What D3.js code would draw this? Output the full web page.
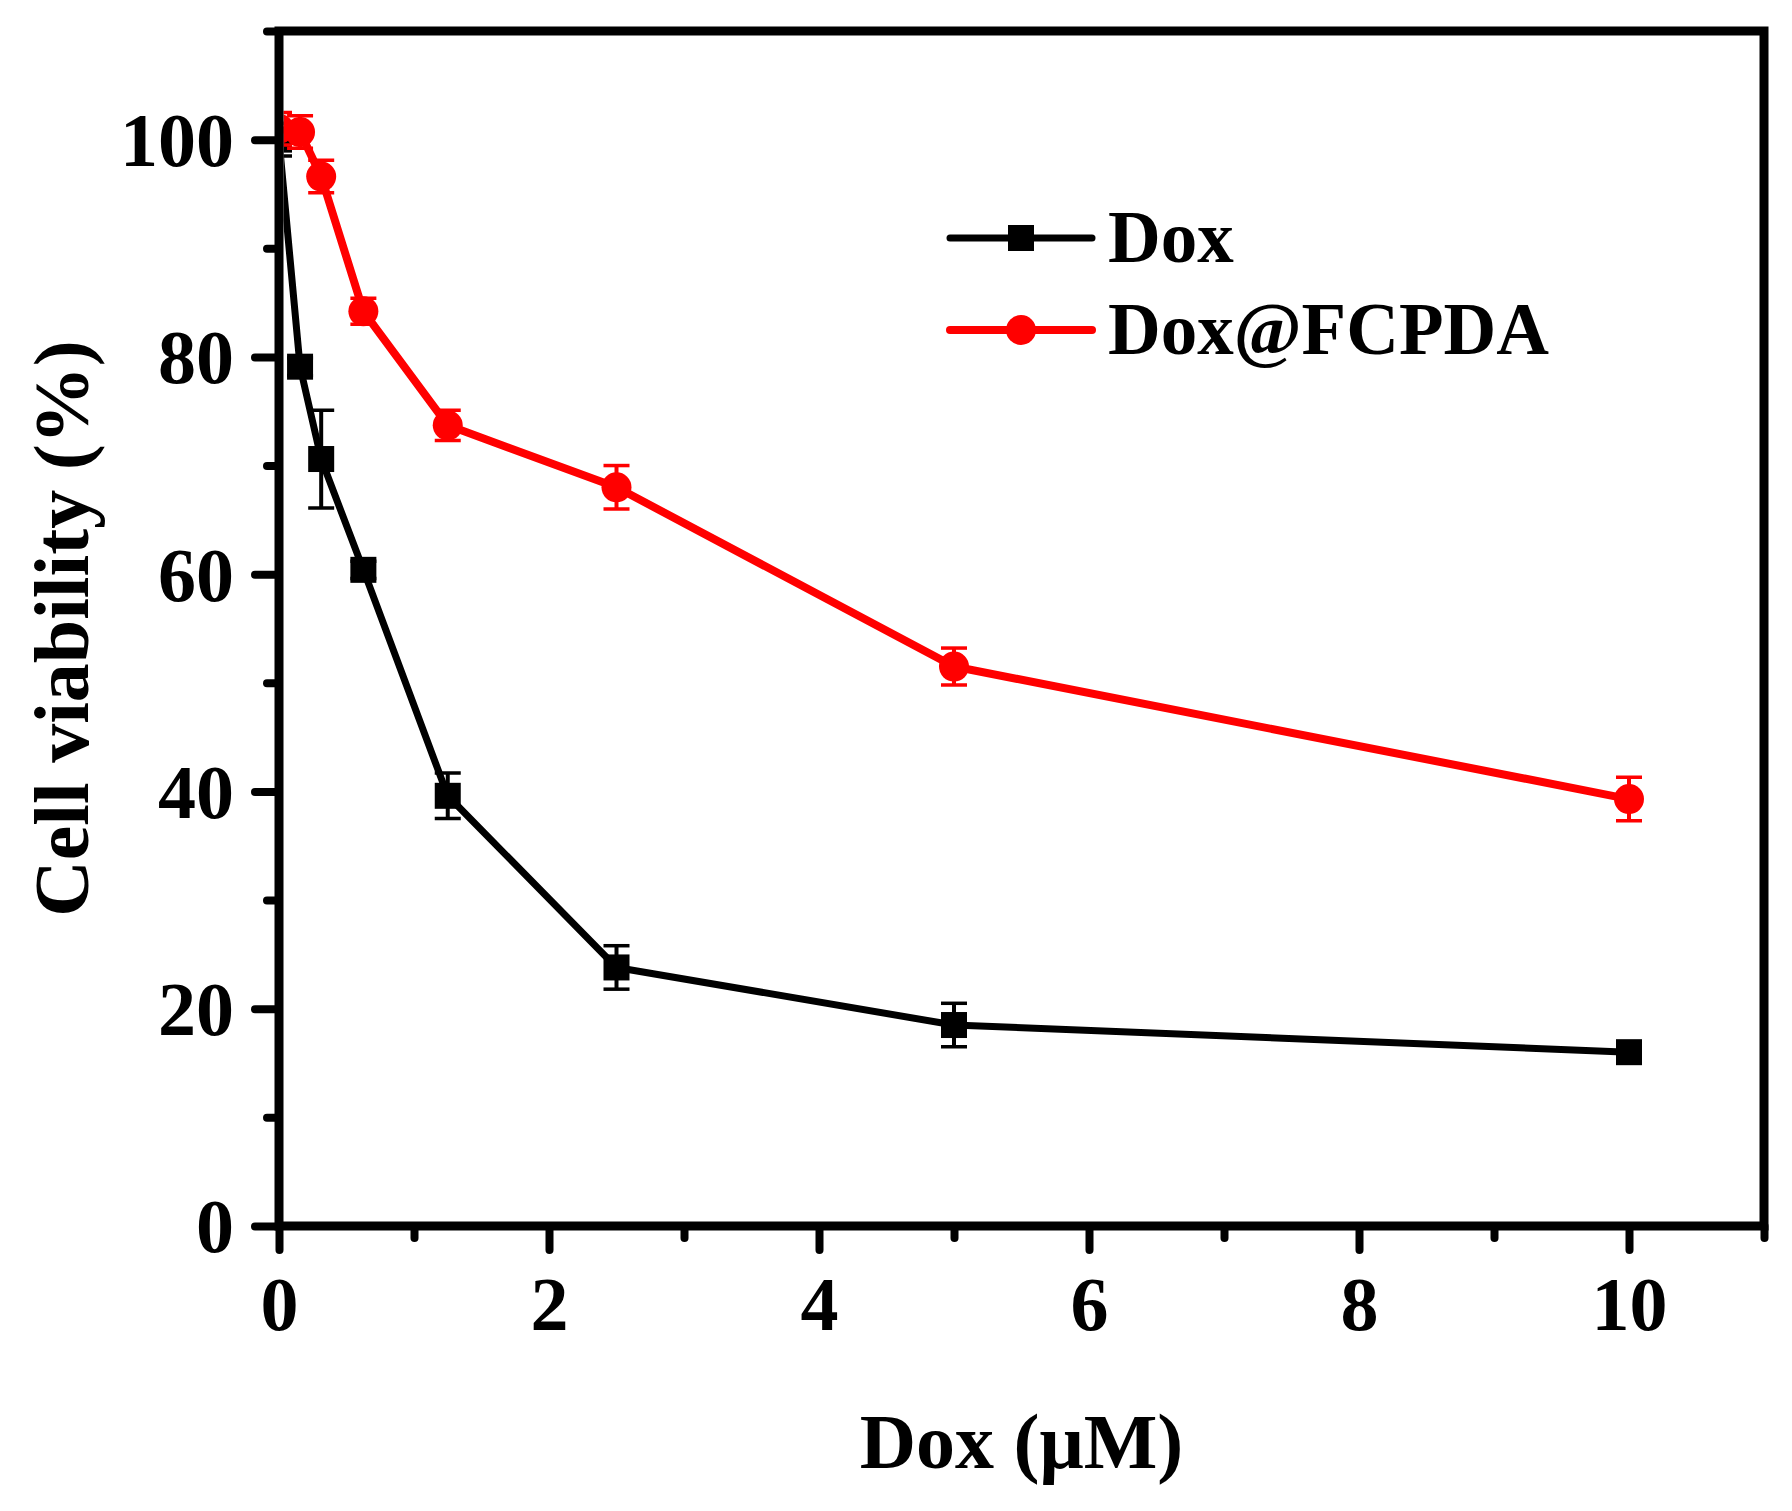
<!DOCTYPE html>
<html>
<head>
<meta charset="utf-8">
<script src="https://cdn.jsdelivr.net/npm/d3@7"></script>
<style>
  body { margin: 0; background: #fff; }
  text { font-family: "Liberation Serif", "Times New Roman", serif; font-weight: bold; }
</style>
</head>
<body>
<div id="chart"></div>
<script>
"use strict";

// doses (uM) and the two viability series
let doses = [0, 0.156, 0.3125, 0.625, 1.25, 2.5, 5, 10];
let doxValues = [100, 79.1, 70.6, 60.4, 39.6, 23.8, 18.5, 16.0];
let doxErrors = [1.5, 0.8, 4.5, 0.8, 2.1, 2.0, 2.0, 0.8];
let fcpdaValues = [101.0, 100.7, 96.6, 84.2, 73.7, 68.0, 51.5, 39.3];
let fcpdaErrors = [1.5, 1.5, 1.5, 1.2, 1.4, 2.0, 1.7, 2.0];
let seriesNames = ["Dox", "Dox@FCPDA"];
let seriesColors = ["#000000", "#ff0000"];

let xTicks = d3.range(0, 12, 1);
let yTicks = d3.range(0, 120, 10);

let width = 1792, height = 1511;
let plotLeft = 279, plotRight = 1764, plotTop = 31, plotBottom = 1226;

let drawing = d3.select("#chart")
    .append("svg")
    .attr("width", width)
    .attr("height", height);

let x = d3.scaleLinear().domain([0, 11]).range([plotLeft, plotRight]);
let y = d3.scaleLinear().domain([0, 110]).range([plotBottom, plotTop]);

// clip data to inside of the frame
drawing.append("clipPath")
    .attr("id", "plotClip")
    .append("rect")
    .attr("x", plotLeft + 4.5)
    .attr("y", plotTop + 4.5)
    .attr("width", plotRight - plotLeft - 9)
    .attr("height", plotBottom - plotTop - 9);

let plot = drawing.append("g").attr("clip-path", "url(#plotClip)");

function makeSeries(values, errors) {
    return doses.map((d, i) => ({ x: d, y: values[i], e: errors[i] }));
}

let series = [makeSeries(doxValues, doxErrors), makeSeries(fcpdaValues, fcpdaErrors)];
let lineWidths = [7, 8];

let line = d3.line().x(d => x(d.x)).y(d => y(d.y));

series.forEach((data, s) => {
    let color = seriesColors[s];
    let g = plot.append("g");

    g.append("path")
        .datum(data)
        .attr("d", line)
        .attr("fill", "none")
        .attr("stroke", color)
        .attr("stroke-width", lineWidths[s])
        .attr("stroke-linejoin", "round");

    // error bars
    let bars = g.selectAll(".err").data(data).enter().append("g");
    bars.append("line")
        .attr("x1", d => x(d.x)).attr("x2", d => x(d.x))
        .attr("y1", d => y(d.y - d.e)).attr("y2", d => y(d.y + d.e))
        .attr("stroke", color).attr("stroke-width", 4);
    [-1, 1].forEach(sign => {
        bars.append("line")
            .attr("x1", d => x(d.x) - 13).attr("x2", d => x(d.x) + 13)
            .attr("y1", d => y(d.y + sign * d.e)).attr("y2", d => y(d.y + sign * d.e))
            .attr("stroke", color).attr("stroke-width", 3.5);
    });

    // markers
    if (s === 0) {
        g.selectAll(".sq").data(data).enter().append("rect")
            .attr("x", d => x(d.x) - 13)
            .attr("y", d => y(d.y) - 13)
            .attr("width", 26).attr("height", 26)
            .attr("fill", color);
    } else {
        g.selectAll(".dot").data(data).enter().append("circle")
            .attr("cx", d => x(d.x))
            .attr("cy", d => y(d.y))
            .attr("r", 15)
            .attr("fill", color);
    }
});

// frame
drawing.append("rect")
    .attr("x", plotLeft).attr("y", plotTop)
    .attr("width", plotRight - plotLeft).attr("height", plotBottom - plotTop)
    .attr("fill", "none")
    .attr("stroke", "#000")
    .attr("stroke-width", 9);

// axes
let xAxis = d3.axisBottom(x)
    .tickValues(xTicks)
    .tickSizeOuter(0)
    .tickFormat(d => d % 2 === 0 && d <= 10 ? d : "");

let yAxis = d3.axisLeft(y)
    .tickValues(yTicks)
    .tickSizeOuter(0)
    .tickFormat(d => d % 20 === 0 ? d : "");

let gx = drawing.append("g").attr("transform", `translate(0,${plotBottom})`).call(xAxis);
let gy = drawing.append("g").attr("transform", `translate(${plotLeft},0)`).call(yAxis);

[gx, gy].forEach(g => {
    g.select(".domain").remove();
    g.selectAll(".tick line")
        .attr("stroke", "#000")
        .attr("stroke-width", 8)
        .attr("stroke-linecap", "round");
    g.selectAll(".tick text")
        .attr("fill", "#000")
        .style("font-size", "76px");
});

gx.selectAll(".tick line").attr("y2", d => d % 2 === 0 ? 24 : 12);
gx.selectAll(".tick text").attr("y", 50);
gy.selectAll(".tick line").attr("x2", d => d % 20 === 0 ? -24 : -12);
gy.selectAll(".tick text").attr("x", -45).attr("dy", "0.34em");

// axis titles
drawing.append("text")
    .attr("x", (plotLeft + plotRight) / 2)
    .attr("y", 1468)
    .attr("text-anchor", "middle")
    .style("font-size", "78px")
    .text("Dox (μM)");

drawing.append("text")
    .attr("transform", `translate(88,${(plotTop + plotBottom) / 2}) rotate(-90)`)
    .attr("text-anchor", "middle")
    .style("font-size", "78px")
    .text("Cell viability (%)");

// legend
let legend = drawing.append("g");
let legendY = [238, 330];
seriesNames.forEach((name, s) => {
    let row = legend.append("g").attr("transform", `translate(0,${legendY[s]})`);
    row.append("line")
        .attr("x1", 950).attr("x2", 1092)
        .attr("stroke", seriesColors[s])
        .attr("stroke-width", lineWidths[s])
        .attr("stroke-linecap", "round");
    if (s === 0) {
        row.append("rect").attr("x", 1008).attr("y", -13).attr("width", 26).attr("height", 26)
            .attr("fill", seriesColors[s]);
    } else {
        row.append("circle").attr("cx", 1021).attr("r", 15).attr("fill", seriesColors[s]);
    }
    row.append("text")
        .attr("x", 1108)
        .attr("y", 24)
        .style("font-size", "73px")
        .text(name);
});
</script>
</body>
</html>
